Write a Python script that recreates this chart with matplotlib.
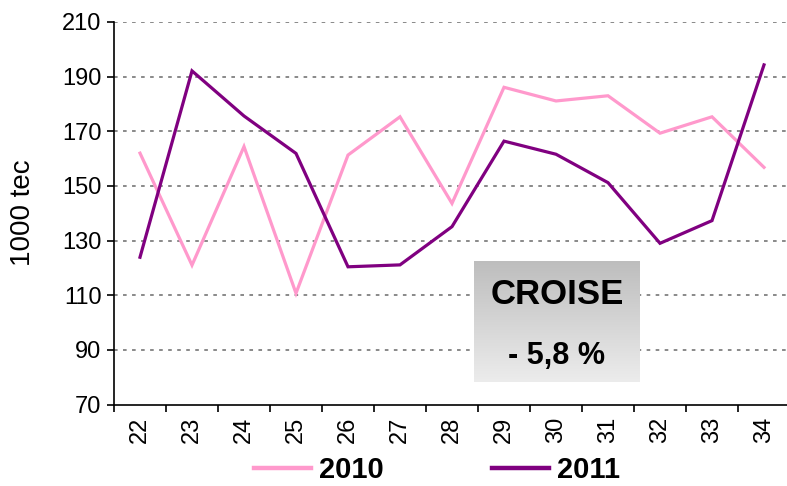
import matplotlib
matplotlib.use("Agg")
import matplotlib.pyplot as plt
import numpy as np
from matplotlib.colors import LinearSegmentedColormap

weeks = ["22", "23", "24", "25", "26", "27", "28", "29", "30", "31", "32", "33", "34"]
values_2010 = [162, 121, 164.4, 110.7, 161.3, 175.3, 143.6, 186.1, 181.1, 183, 169.3, 175.3, 156.8]
values_2011 = [123.9, 192.1, 175.6, 161.9, 120.4, 121.1, 135.1, 166.4, 161.6, 151.2, 129, 137.3, 194.3]
series_labels = ["2010", "2011"]
y_ticks = [70, 90, 110, 130, 150, 170, 190, 210]
box_title = "CROISE"
box_value = "- 5,8 %"
y_label = "1000 tec"

plt.rcParams['font.family'] = ['Liberation Sans', 'DejaVu Sans']

W, H = 787, 486
fig = plt.figure(figsize=(W / 100, H / 100), dpi=100)
ax = fig.add_axes([114 / W, (H - 404.5) / H, 676 / W, 382.5 / H])

x = np.arange(len(weeks))
l1, = ax.plot(x, values_2010, color="#FF99CC", lw=2.3, label=series_labels[0], solid_joinstyle="miter")
l2, = ax.plot(x, values_2011, color="#800080", lw=2.3, label=series_labels[1], solid_joinstyle="miter")

ax.set_xlim(-0.5, len(weeks) - 0.5)
ax.set_ylim(70, 210)
ax.set_yticks(y_ticks)
ax.set_yticklabels([str(v) for v in y_ticks], fontsize=17)
ax.set_xticks(x)
ax.set_xticklabels(weeks, rotation=90, fontsize=17)
ax.set_xticks(np.arange(-0.5, len(weeks)), minor=True)
ax.tick_params(axis="x", which="major", length=0, pad=9)
ax.tick_params(axis="x", which="minor", length=5, width=1.2, direction="out")
ax.tick_params(axis="y", length=5, width=1.2, direction="out", pad=4)

for v in y_ticks[1:]:
    ax.axhline(v, color="#808080", lw=1.3, linestyle=(0, (2, 3)), zorder=0)

for s in ["top", "right"]:
    ax.spines[s].set_visible(False)
for s in ["left", "bottom"]:
    ax.spines[s].set_linewidth(1.2)
    ax.spines[s].set_color("black")

ax.set_ylabel(y_label, fontsize=20)
ax.yaxis.set_label_coords(-(114 - 36) / 676, (404.5 - 213) / 382.5)

leg = fig.legend(handles=[l1, l2], labels=series_labels, loc="center",
                 bbox_to_anchor=(437 / W, (H - 470) / H), ncol=2, frameon=False,
                 prop={"weight": "bold", "size": 21}, handlelength=1.95,
                 columnspacing=3.7, handletextpad=0.28,
                 borderpad=0, borderaxespad=0)
for lh in leg.get_lines():
    lh.set_linewidth(3.2)

# gradient box
bx = fig.add_axes([474 / W, (H - 382) / H, 166 / W, 121 / H])
grad = np.linspace(0, 1, 256).reshape(-1, 1)
cmap = LinearSegmentedColormap.from_list("g", ["#bdbdbd", "#ececec"])
bx.imshow(grad, aspect="auto", cmap=cmap, extent=[0, 1, 0, 1], origin="upper")
bx.set_axis_off()
fig.text(557 / W, (H - 294) / H, box_title, ha="center", va="center",
         fontsize=25, fontweight="bold")
fig.text(557 / W, (H - 356) / H, box_value, ha="center", va="center",
         fontsize=22, fontweight="bold")

fig.savefig("out.png", dpi=100)
